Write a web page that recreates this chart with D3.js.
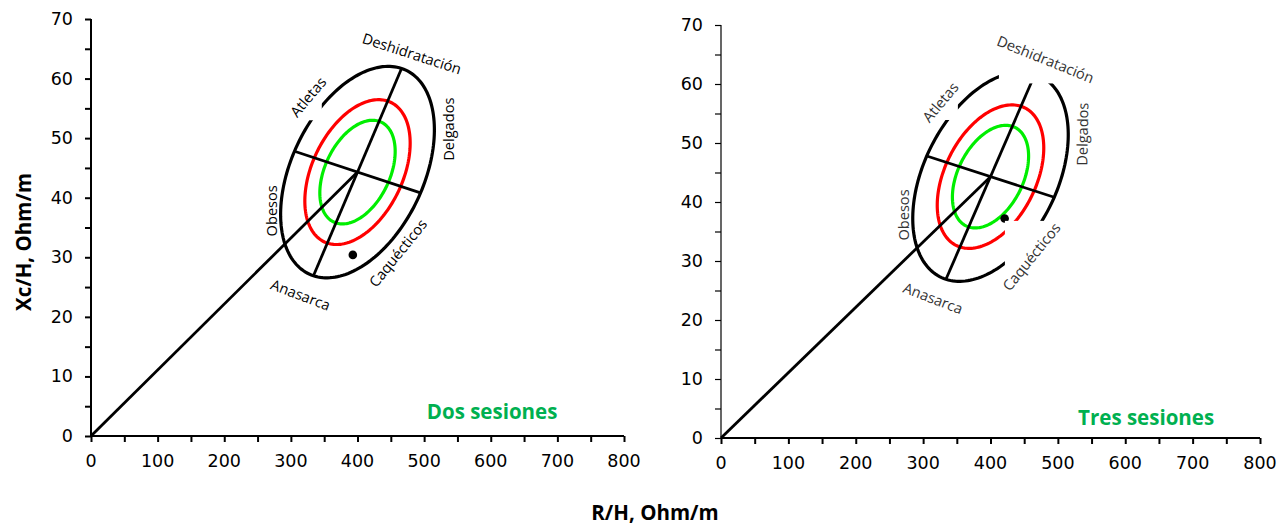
<!DOCTYPE html>
<html><head><meta charset="utf-8">
<script src="https://cdn.jsdelivr.net/npm/d3@7"></script>
<style>body{margin:0;background:#fff}</style>
</head><body>
<svg id="chart" width="1287" height="525"></svg>
<script>
// ---------- data ----------
const xTickValues = [0, 100, 200, 300, 400, 500, 600, 700, 800];
const xMinorTicks = [0, 50, 100, 150, 200, 250, 300, 350, 400, 450, 500, 550, 600, 650, 700, 750, 800];
const yTickValues = [0, 10, 20, 30, 40, 50, 60, 70];
const yMinorTicks = [0, 5, 10, 15, 20, 25, 30, 35, 40, 45, 50, 55, 60, 65, 70];

const panelTitles = ["Dos sesiones", "Tres sesiones"];
const patientR  = [393, 421];
const patientXc = [30.4, 37.2];

// reference (tolerance) ellipse, in R/H , Xc/H units
const refCenter    = [400, 44.3];
const refMajorHalf = [66.1, 17.4];
const refMinorHalf = [94.6, -3.5];
const ellipseLevels = ["95%", "75%", "50%"];
const ellipseScale  = [1, 0.685, 0.49];

const zoneNames = ["Deshidratación", "Atletas", "Delgados", "Obesos", "Anasarca", "Caquécticos"];
const zoneR  = [482, 325, 535.5, 269.5, 315, 460];
const zoneXc = [64.3, 57, 51.5, 37.8, 23.8, 30.8];

const xTitle = "R/H, Ohm/m";
const yTitle = "Xc/H, Ohm/m";

// ---------- layout / style ----------
const panels = [
  { xr: [91, 624], yr: [436, 19], yAxisW: 2, rot: [18, -50, -90, -90, 21, -51], labelColor: "#000",
    titlePos: [602, 4.2],
    masks: [[283, 346.4, 53.0, 66]] },
  { xr: [721, 1260], yr: [438, 25], yAxisW: 1.2, rot: [22, -50, -89, -90, 21, -51], labelColor: "#333",
    titlePos: [631, 3.6],
    masks: [[288, 351.6, 53.9, 64], [412.5, 577, 60.1, 70], [421.4, 532.6, 23.4, 36.8]] }
];
const ellipseColors = ["#000000", "#ff0000", "#00ee00"];

const svg = d3.select("#chart");
const tickFont = "'DejaVu Sans', sans-serif";
const textFont = "'Open Sans', sans-serif";

panels.forEach((p, i) => {
  const x = d3.scaleLinear().domain([0, 800]).range(p.xr);
  const y = d3.scaleLinear().domain([0, 70]).range(p.yr);
  const g = svg.append("g");

  // axes
  const xa = g.append("g").attr("transform", `translate(0,${y(0)})`)
    .call(d3.axisBottom(x).tickValues(xMinorTicks).tickSize(6).tickFormat(""));
  xa.select(".domain").attr("stroke-width", 2).attr("d", `M${x(0)},0H${x(800)}`);
  xa.selectAll(".tick line").attr("stroke-width", 2);
  xTickValues.forEach(v => {
    g.append("text").attr("x", x(v)).attr("y", y(0) + 31)
      .attr("text-anchor", "middle").attr("font-family", tickFont).attr("font-size", 17.5)
      .text(v);
  });

  const ya = g.append("g").attr("transform", `translate(${x(0)},0)`)
    .call(d3.axisLeft(y).tickValues(yMinorTicks).tickSize(6).tickFormat(""));
  ya.select(".domain").attr("stroke-width", p.yAxisW).attr("d", `M0,${y(0)}V${y(70)}`);
  ya.selectAll(".tick line").attr("stroke-width", p.yAxisW);
  yTickValues.forEach(v => {
    g.append("text").attr("x", x(0) - 18).attr("y", y(v))
      .attr("text-anchor", "end").attr("dominant-baseline", "central")
      .attr("font-family", tickFont).attr("font-size", 17.5)
      .text(v);
  });

  // ellipses
  const line = d3.line().x(d => x(d[0])).y(d => y(d[1]));
  ellipseLevels.forEach((lev, k) => {
    const s = ellipseScale[k];
    const pts = d3.range(0, 361, 2).map(deg => {
      const t = deg * Math.PI / 180;
      return [refCenter[0] + s * (Math.cos(t) * refMajorHalf[0] + Math.sin(t) * refMinorHalf[0]),
              refCenter[1] + s * (Math.cos(t) * refMajorHalf[1] + Math.sin(t) * refMinorHalf[1])];
    });
    g.append("path").attr("d", line(pts) + "Z").attr("fill", "none")
      .attr("stroke", ellipseColors[k]).attr("stroke-width", 3.2);
  });

  // axes of ellipse and vector from origin
  const segs = [
    [[0, 0], refCenter],
    [[refCenter[0] - refMajorHalf[0], refCenter[1] - refMajorHalf[1]], [refCenter[0] + refMajorHalf[0], refCenter[1] + refMajorHalf[1]]],
    [[refCenter[0] - refMinorHalf[0], refCenter[1] - refMinorHalf[1]], [refCenter[0] + refMinorHalf[0], refCenter[1] + refMinorHalf[1]]]
  ];
  segs.forEach(s => g.append("path").attr("d", line(s)).attr("stroke", "#000").attr("stroke-width", 2.8).attr("fill", "none"));

  // patient point
  g.append("circle").attr("cx", x(patientR[i])).attr("cy", y(patientXc[i])).attr("r", 4.3).attr("fill", "#000");

  // label backgrounds
  p.masks.forEach(m => {
    g.append("rect").attr("x", x(m[0])).attr("width", x(m[1]) - x(m[0]))
      .attr("y", y(m[3])).attr("height", y(m[2]) - y(m[3])).attr("fill", "#fff");
  });

  // zone labels
  zoneNames.forEach((n, k) => {
    g.append("text").attr("transform", `translate(${x(zoneR[k])},${y(zoneXc[k])}) rotate(${p.rot[k]})`)
      .attr("text-anchor", "middle").attr("dominant-baseline", "central")
      .attr("font-family", textFont).attr("font-size", 14.6).attr("fill", p.labelColor)
      .text(n);
  });

  // panel title
  g.append("text").attr("x", x(p.titlePos[0])).attr("y", y(p.titlePos[1]))
    .attr("text-anchor", "middle").attr("dominant-baseline", "central")
    .attr("font-family", textFont).attr("font-weight", "bold").attr("font-size", 20.5)
    .attr("fill", "#00b050").text(panelTitles[i]);
});

svg.append("text").attr("transform", "translate(23,242) rotate(-90)")
  .attr("text-anchor", "middle").attr("dominant-baseline", "central")
  .attr("font-family", textFont).attr("font-weight", "bold").attr("font-size", 20.5)
  .text(yTitle);
svg.append("text").attr("x", 655).attr("y", 511.7)
  .attr("text-anchor", "middle").attr("dominant-baseline", "central")
  .attr("font-family", textFont).attr("font-weight", "bold").attr("font-size", 20.5)
  .text(xTitle);
</script>
</body></html>
